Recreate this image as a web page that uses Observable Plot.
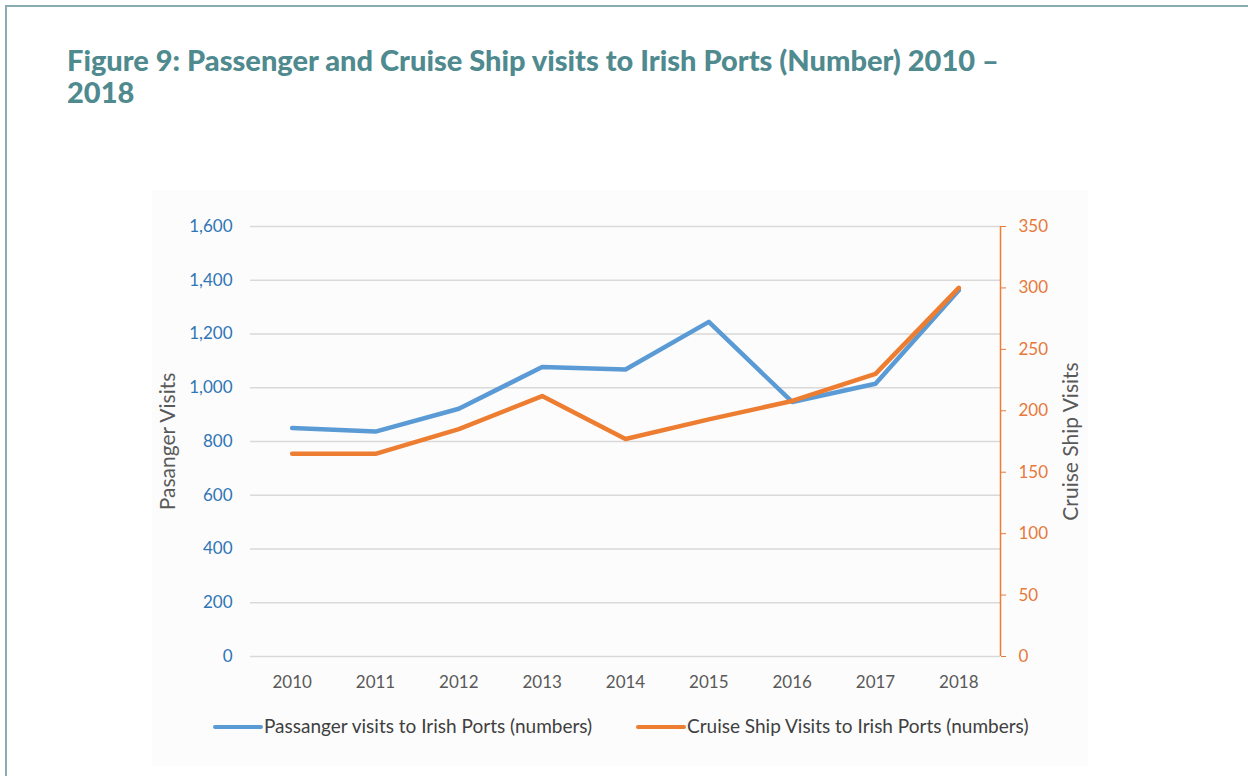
<!DOCTYPE html>
<html>
<head>
<meta charset="utf-8">
<script src="https://cdn.jsdelivr.net/npm/d3@7"></script>
<script src="https://cdn.jsdelivr.net/npm/@observablehq/plot@0.6"></script>
<style>
  html, body { margin: 0; padding: 0; background: #ffffff; }
  body { width: 1248px; height: 776px; position: relative; overflow: hidden; font-family: Lato, "Open Sans", sans-serif; }
  #frame { position: absolute; left: 5px; top: 5px; width: 1250px; height: 780px; border-top: 2px solid #8aacb1; border-left: 2px solid #8aacb1; }
  #title { position: absolute; left: 67px; top: 44px; font-family: Lato, sans-serif; font-weight: 900; font-size: 29px; line-height: 32px; color: #4f8a8f; }
  #panel { position: absolute; left: 152px; top: 190px; width: 936px; height: 576px; background: #fcfcfc; }
  #chart { position: absolute; left: 0; top: 0; }
  .leg { position: absolute; top: 714px; font-size: 19px; color: #404040; white-space: nowrap; }
  .sw { display: inline-block; width: 50px; height: 4px; vertical-align: middle; margin-right: 1px; position: relative; top: -1px; border-radius: 2px; }
</style>
</head>
<body>
<div id="frame"></div>
<div id="title">Figure 9: Passenger and Cruise Ship visits to Irish Ports (Number) 2010 –<br>2018</div>
<div id="panel"><div id="chart"></div></div>
<div class="leg" id="leg1" style="left:213px"><span class="sw" style="background:#5B9BD5"></span>Passanger visits to Irish Ports (numbers)</div>
<div class="leg" id="leg2" style="left:636px"><span class="sw" style="background:#ED7D31"></span>Cruise Ship Visits to Irish Ports (numbers)</div>
<script>
const years = [2010, 2011, 2012, 2013, 2014, 2015, 2016, 2017, 2018];
const passengerVisits = [850, 837, 922, 1077, 1068, 1245, 947, 1015, 1363];
const cruiseShipVisits = [165, 165, 185, 212, 177, 193, 208, 230, 300];
const leftTicks = [0, 200, 400, 600, 800, 1000, 1200, 1400, 1600];
const rightTicks = [0, 50, 100, 150, 200, 250, 300, 350];

const blue = "#5B9BD5";
const orange = "#ED7D31";
const k = 1600 / 350; // right-axis value -> left-axis scale

const data = years.map((year, i) => ({year, passengers: passengerVisits[i], cruise: cruiseShipVisits[i]}));

const chart = Plot.plot({
  width: 936,
  height: 510,
  marginLeft: 98,
  marginRight: 88,
  marginTop: 36,
  marginBottom: 44,
  style: {fontFamily: "Lato, sans-serif", fontSize: "17px", background: "transparent", overflow: "visible"},
  x: {type: "linear", domain: [2009.5, 2018.5], label: null},
  y: {domain: [0, 1600], label: null},
  marks: [
    Plot.gridY(leftTicks, {stroke: "#d9d9d9", strokeOpacity: 1, strokeWidth: 1.4}),
    Plot.axisY(leftTicks, {anchor: "left", tickSize: 0, tickPadding: 18, tickFormat: d3.format(","), color: "#2F75B5", fontSize: 17, label: null}),
    Plot.axisY(rightTicks.map(v => v * k), {anchor: "right", tickSize: 5, tickPadding: 13, tickFormat: d => String(Math.round(d / k)), color: "#E8783A", fontSize: 17, label: null}),
    Plot.axisX(years, {anchor: "bottom", tickSize: 0, tickPadding: 19, tickFormat: d => String(d), color: "#595959", fontSize: 17, label: null}),
    Plot.ruleX([2018.5], {y1: 0, y2: 1600, stroke: orange, strokeWidth: 1.5}),
    Plot.line(data, {x: "year", y: "passengers", stroke: blue, strokeWidth: 4.5, strokeLinejoin: "round", strokeLinecap: "round"}),
    Plot.line(data, {x: "year", y: d => d.cruise * k, stroke: orange, strokeWidth: 4.5, strokeLinejoin: "round", strokeLinecap: "round"}),
    Plot.text(["Pasanger Visits"], {frameAnchor: "left", dx: -82, rotate: -90, textAnchor: "middle", fill: "#595959", fontSize: 21}),
    Plot.text(["Cruise Ship Visits"], {frameAnchor: "right", dx: 71, rotate: -90, textAnchor: "middle", fill: "#595959", fontSize: 21})
  ]
});
document.getElementById("chart").appendChild(chart);
</script>
</body>
</html>
